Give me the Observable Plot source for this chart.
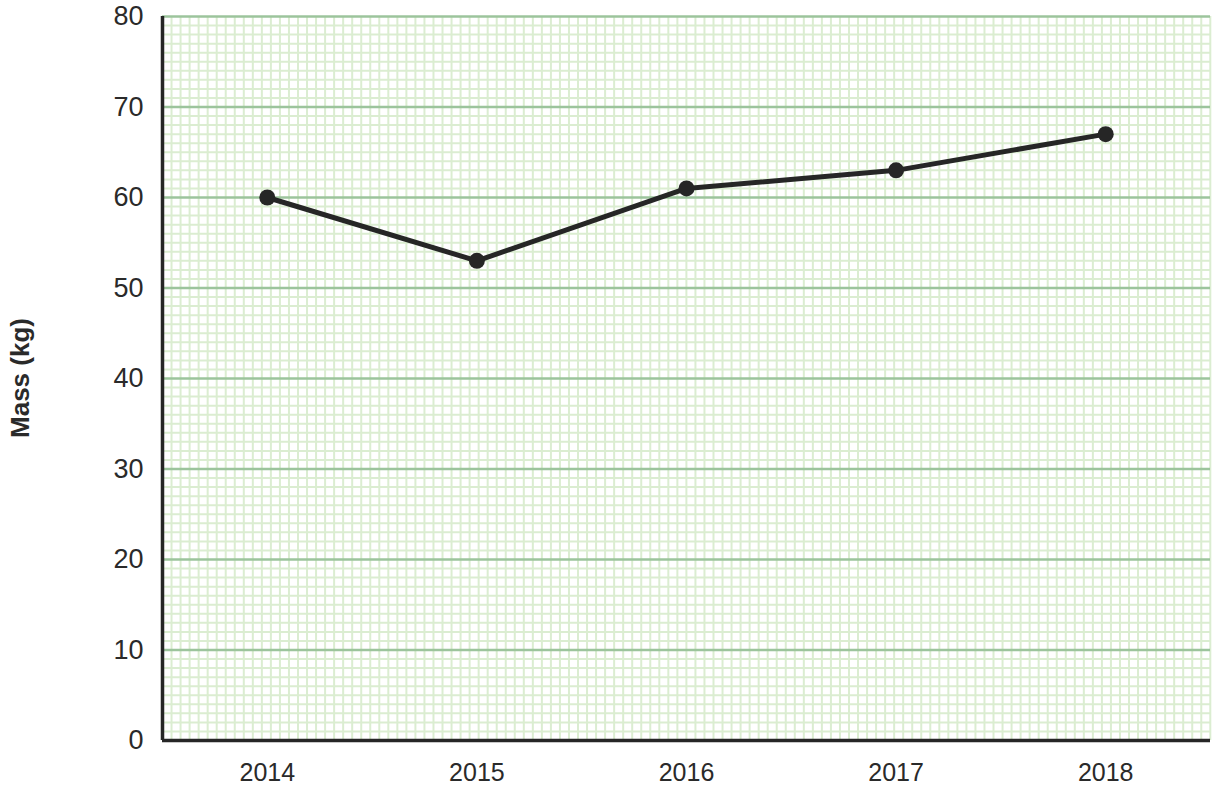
<!DOCTYPE html>
<html>
<head>
<meta charset="utf-8">
<script src="https://cdn.jsdelivr.net/npm/d3@7"></script>
<script src="https://cdn.jsdelivr.net/npm/@observablehq/plot@0.6"></script>
<style>
  html, body { margin: 0; padding: 0; background: #fff; }
  #chart { width: 1220px; height: 786px; }
  svg { font-family: "Liberation Sans", Arial, sans-serif; }
</style>
</head>
<body>
<div id="chart"></div>
<script>
const years = ["2014", "2015", "2016", "2017", "2018"];
const mass = [60, 53, 61, 63, 67];
const yTicks = [0, 10, 20, 30, 40, 50, 60, 70, 80];

const data = years.map((y, i) => ({ i, year: y, mass: mass[i] }));

// decorative graph-paper grid
const minorY = d3.range(0, 81).filter(v => v % 10 !== 0);
const gridStep = 9.05 / 210; // square cells in x units
const minorX = d3.range(1, 117).map(k => -0.5 + k * gridStep);

const chart = Plot.plot({
  width: 1220,
  height: 786,
  marginLeft: 162,
  marginRight: 10,
  marginTop: 16,
  marginBottom: 46,
  style: { fontFamily: "Liberation Sans, Arial, sans-serif", background: "#fff" },
  x: { domain: [-0.5, 4.5], axis: null },
  y: { domain: [0, 80], axis: null },
  marks: [
    Plot.ruleY(minorY, { stroke: "#dbedd1", strokeWidth: 2 }),
    Plot.ruleX(minorX, { stroke: "#dbedd1", strokeWidth: 2 }),
    Plot.ruleY(yTicks.filter(v => v > 0), { stroke: "#9cc49c", strokeWidth: 2.5 }),
    Plot.ruleX([-0.5], { stroke: "#262626", strokeWidth: 3.5 }),
    Plot.ruleY([0], { stroke: "#262626", strokeWidth: 3.5, x1: -0.5, x2: 4.5 }),
    Plot.line(data, { x: "i", y: "mass", stroke: "#262626", strokeWidth: 5 }),
    Plot.dot(data, { x: "i", y: "mass", r: 8, fill: "#262626", stroke: "none" }),
    Plot.text(yTicks, { x: -0.5, y: d => d, text: d => String(d), dx: -19, textAnchor: "end", fontSize: 27, fill: "#2a2a2a" }),
    Plot.text(data, { x: "i", y: 0, text: "year", dy: 32, fontSize: 25, fill: "#2a2a2a" })
  ]
});

// y axis title
const svg = d3.select(chart);
svg.append("text")
  .attr("transform", "translate(29,378) rotate(-90)")
  .attr("text-anchor", "middle")
  .attr("font-size", 26)
  .attr("font-weight", "bold")
  .attr("fill", "#2a2a2a")
  .attr("font-family", "Liberation Sans, Arial, sans-serif")
  .text("Mass (kg)");

document.getElementById("chart").appendChild(chart);
</script>
</body>
</html>
